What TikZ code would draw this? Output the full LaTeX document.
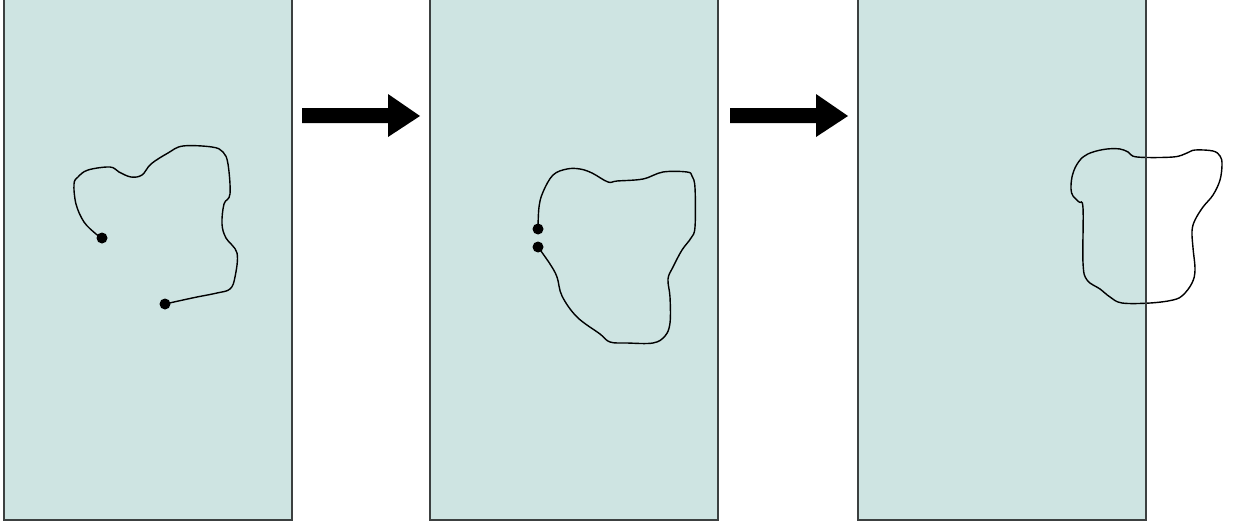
\documentclass[tikz,border=0pt]{standalone}
\usepackage{tikz}
\definecolor{panelfill}{RGB}{206,228,226}
\definecolor{panelline}{RGB}{60,64,64}

\begin{document}
\begin{tikzpicture}[x=0.02cm, y=-0.02cm]
\useasboundingbox (0, 0) rectangle (1239, 527);
\fill [white] (0, 0) rectangle (1239, 527);
% the three panels
\foreach \x in {4, 430, 858}{\draw [fill=panelfill, draw=panelline, line width=1.1pt] (\x, -10) rectangle (\x+288, 520);}
% block arrows
\foreach \x in {302, 730}{\fill [black] (\x, 108) -- (\x+86, 108) -- (\x+86, 94) -- (\x+118, 116) -- (\x+86, 137) -- (\x+86, 123) -- (\x, 123) -- cycle;}
% open loop
\draw [line width=0.8pt] plot [smooth, tension=0.6] coordinates {(102, 238) (96, 234) (84, 222) (76, 204) (74, 184) (78, 177) (88, 170) (110, 167) (119, 172) (131, 177) (142, 175) (151, 164) (168, 153) (183, 146) (212, 147) (223, 152) (228, 164) (230, 194) (224, 204) (222, 224) (226, 238) (237, 253) (235, 277) (230, 289) (217, 293) (197, 297) (183, 300) (165, 304)};
\fill (102, 238) circle (5.5);
\fill (165, 304) circle (5.5);
% nearly closed loop
\draw [line width=0.8pt] plot [smooth, tension=0.6] coordinates {(538, 229) (539, 207) (543, 192) (553, 175) (567, 169) (580, 169) (592, 173) (608, 182) (617, 181) (643, 179) (663, 172) (687, 172) (692, 176) (695, 188) (695, 227) (691, 238) (682, 250) (673, 267) (668, 279) (670, 297) (670, 323) (665, 336) (653, 343) (627, 343) (610, 342) (600, 334) (577, 317) (562, 296) (557, 277) (550, 264) (538, 247)};
\fill (538, 229) circle (5.5);
\fill (538, 247) circle (5.5);
% closed loop across the edge
\draw [line width=0.8pt] plot [smooth cycle, tension=0.6] coordinates {(1137, 157) (1173, 157) (1187, 153) (1195, 150) (1213, 151) (1220, 156) (1222, 164) (1220, 180) (1213, 195) (1203, 207) (1195, 220) (1192, 231) (1193, 248) (1195, 270) (1192, 283) (1183, 295) (1173, 300) (1150, 303) (1122, 303) (1110, 297) (1100, 289) (1087, 280) (1083, 263) (1083, 208) (1079, 202) (1073, 196) (1071, 189) (1072, 177) (1076, 166) (1083, 157) (1093, 152) (1107, 149) (1120, 149) (1128, 152)};
\draw [panelline, line width=1.1pt] (1146, -10) -- (1146, 520);
\end{tikzpicture}
\end{document}
